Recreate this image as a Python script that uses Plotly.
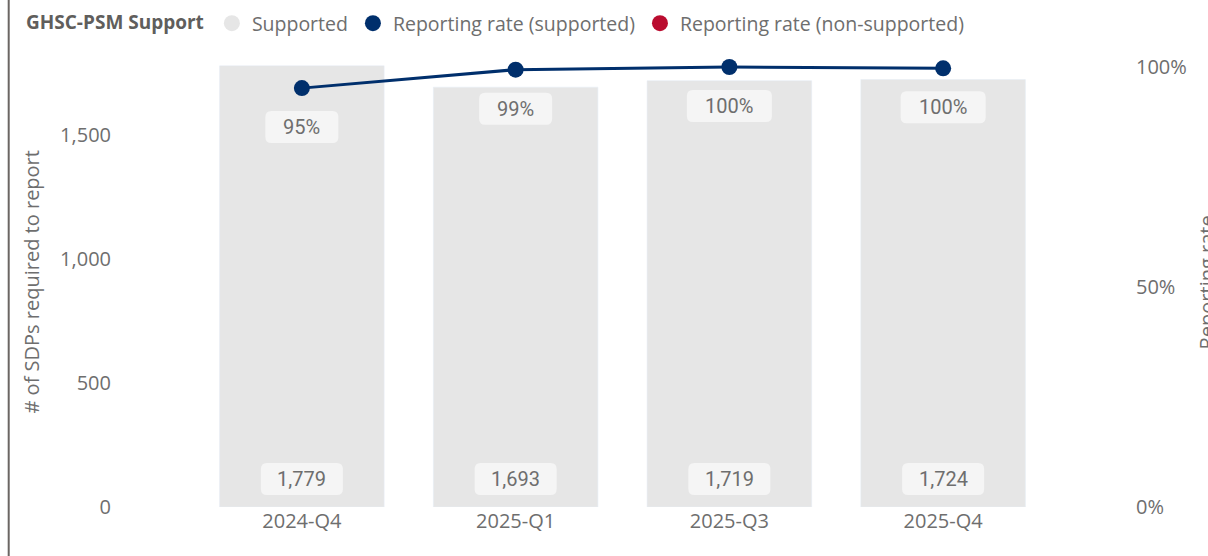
import plotly.graph_objects as go

quarters = ["2024-Q4", "2025-Q1", "2025-Q3", "2025-Q4"]
sdps_required = [1779, 1693, 1719, 1724]
rate_supported = [0.952, 0.994, 1.0, 0.997]
rate_non_supported = [None, None, None, None]

legend_title = "GHSC-PSM Support"
series_names = ["Supported", "Reporting rate (supported)", "Reporting rate (non-supported)"]
left_title = "# of SDPs required to report"
right_title = "Reporting rate"

GRAY_BAR = "#E6E6E6"
NAVY = "#002F6C"
RED = "#BA0C2F"
TXT = "#6E6E6E"
BOX = "#F5F5F5"
FONT = "Open Sans, Noto Sans, sans-serif"
LBL_FONT = "Roboto, sans-serif"

W, H = 1208, 556
ML, MR, MT, MB = 195, 158, 58, 49
PW, PH = W - ML - MR, H - MT - MB


def rounded_box(w, h, dy, r=6):
    x0, x1 = -w / 2, w / 2
    y0, y1 = dy - h / 2, dy + h / 2
    return (f"M {x0 + r},{y0} L {x1 - r},{y0} Q {x1},{y0} {x1},{y0 + r} "
            f"L {x1},{y1 - r} Q {x1},{y1} {x1 - r},{y1} L {x0 + r},{y1} "
            f"Q {x0},{y1} {x0},{y1 - r} L {x0},{y0 + r} Q {x0},{y0} {x0 + r},{y0} Z")


fig = go.Figure()

fig.add_trace(go.Bar(
    x=quarters, y=sdps_required, marker_color=GRAY_BAR, width=0.77,
    showlegend=False, name=series_names[0], yaxis="y"))

fig.add_trace(go.Scatter(
    x=quarters, y=rate_supported, mode="lines+markers",
    line=dict(color=NAVY, width=3), marker=dict(color=NAVY, size=16),
    showlegend=False, name=series_names[1], yaxis="y2", cliponaxis=False))

fig.add_trace(go.Scatter(
    x=quarters, y=rate_non_supported, mode="lines+markers",
    line=dict(color=RED, width=3), marker=dict(color=RED, size=16),
    showlegend=False, name=series_names[2], yaxis="y2"))

# legend entries (circle symbols)
for name, col in zip(series_names, [GRAY_BAR, NAVY, RED]):
    fig.add_trace(go.Scatter(
        x=[None], y=[None], mode="markers", name=name,
        marker=dict(color=col, size=19, symbol="circle"), yaxis="y2"))

annotations = []
shapes = []
for i, (q, v) in enumerate(zip(quarters, sdps_required)):
    t = f"{v:,}"
    annotations.append(dict(
        x=q, y=0, xref="x", yref="y", yshift=28, text=t, showarrow=False,
        font=dict(family=LBL_FONT, size=20, color=TXT)))
    shapes.append(dict(
        type="path", xref="x", yref="y", xsizemode="pixel", ysizemode="pixel",
        xanchor=i, yanchor=0, path=rounded_box(12 * len(t) + 22, 32, 28),
        fillcolor=BOX, line=dict(width=0), layer="above"))

for i, (q, v) in enumerate(zip(quarters, rate_supported)):
    t = f"{round(v * 100)}%"
    annotations.append(dict(
        x=q, y=v, xref="x", yref="y2", yshift=-39, text=t, showarrow=False,
        font=dict(family=LBL_FONT, size=20, color=TXT)))
    shapes.append(dict(
        type="path", xref="x", yref="y2", xsizemode="pixel", ysizemode="pixel",
        xanchor=i, yanchor=v, path=rounded_box(12 * len(t) + 37, 32, -39),
        fillcolor=BOX, line=dict(width=0), layer="above"))

annotations.append(dict(
    x=(31 - ML) / PW, y=0.5, xref="paper", yref="paper", text=left_title,
    textangle=-90, showarrow=False, font=dict(family=FONT, size=20, color=TXT),
    xanchor="center", yanchor="middle"))
annotations.append(dict(
    x=(1206 - ML) / PW, y=0.5, xref="paper", yref="paper", text=right_title,
    textangle=-90, showarrow=False, font=dict(family=FONT, size=20, color=TXT),
    xanchor="center", yanchor="middle"))

shapes.append(dict(type="line", xref="paper", yref="paper",
                   x0=(8.7 - ML) / PW, x1=(8.7 - ML) / PW, y0=-1, y1=2,
                   line=dict(color="#6B6663", width=2)))

fig.update_layout(
    width=W, height=H,
    margin=dict(l=ML, r=MR, t=MT, b=MB, autoexpand=False),
    paper_bgcolor="white", plot_bgcolor="white",
    font=dict(family=FONT, size=20, color=TXT),
    xaxis=dict(type="category", showgrid=False, zeroline=False, showline=False,
               tickfont=dict(size=20, color=TXT), ticks="", automargin=False),
    yaxis=dict(range=[0, PH / 0.248], tickvals=[0, 500, 1000, 1500],
               tickformat=",", showgrid=False, zeroline=False, showline=False,
               tickfont=dict(size=20, color=TXT), ticklabelstandoff=83,
               automargin=False),
    yaxis2=dict(range=[0, PH / 440], overlaying="y", side="right",
                tickvals=[0, 0.5, 1], ticktext=["0%", "50%", "100%"],
                showgrid=False, zeroline=False, showline=False,
                tickfont=dict(size=20, color=TXT), ticklabelstandoff=85,
                automargin=False),
    legend=dict(orientation="h", xref="container", yref="container",
                x=24 / W, y=1 - 4 / H, xanchor="left", yanchor="top",
                title=dict(text=f"<b>{legend_title}</b>", side="left",
                           font=dict(family=FONT, size=19, color="#605E5C")),
                font=dict(family=FONT, size=19.5, color=TXT),
                itemsizing="trace", itemwidth=30, bgcolor="rgba(0,0,0,0)"),
    annotations=annotations,
    shapes=shapes,
    showlegend=True,
)

fig.write_html("out.html", config={"displayModeBar": False},
               post_script="document.body.style.margin='0';")
